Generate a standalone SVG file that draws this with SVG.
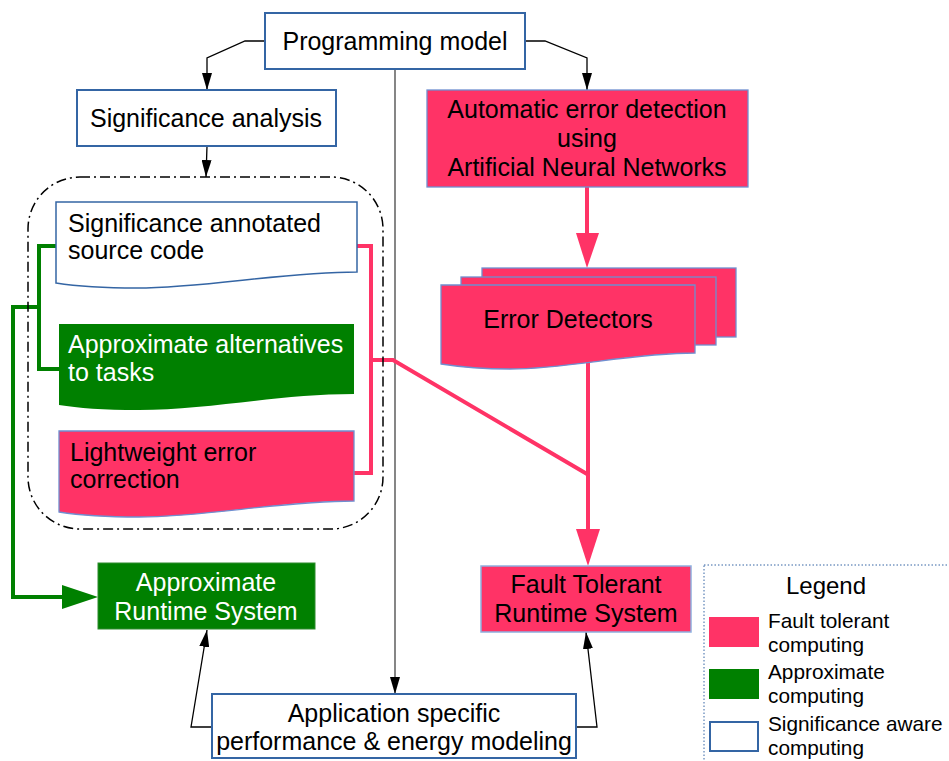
<svg xmlns="http://www.w3.org/2000/svg" width="949" height="761" viewBox="0 0 949 761">
<style>
text{font-family:"Liberation Sans",Arial,sans-serif;font-size:25px;fill:#000}
.w{fill:#fff}
.c{text-anchor:middle}
.lg{font-size:20.8px}
.box{fill:#fff;stroke:#3465a4;stroke-width:2}
.pink{fill:#ff3366}
.pst{stroke:#6f8fd0;stroke-width:1.3}
.green{fill:#008000}
.thin{fill:none;stroke:#000;stroke-width:1.3}
.thick{fill:none;stroke-width:4;stroke-linejoin:miter}
</style>
<defs>
<marker id="a" viewBox="0 0 17 10" refX="17" refY="5" markerWidth="17" markerHeight="10" markerUnits="userSpaceOnUse" orient="auto">
<path d="M0,0 L17,5 L0,10 Z" fill="#000"/>
</marker>
</defs>
<rect width="949" height="761" fill="#fff"/>

<g id="connectors">
<polyline class="thin" points="265,41 245,41 207,58 207,90" marker-end="url(#a)"/>
<polyline class="thin" points="525,41 545,41 587,58 587,90" marker-end="url(#a)"/>
<polyline class="thin" points="207,146 206,177" marker-end="url(#a)"/>
<polyline class="thin" style="stroke:#444" points="395,69 395,694" marker-end="url(#a)"/>
<polyline class="thin" points="212,727 191,727 207,630" marker-end="url(#a)"/>
<polyline class="thin" points="576,727 597,727 586,632" marker-end="url(#a)"/>
<path class="thick" stroke="#ff3366" d="M587,187 V234"/>
<polygon fill="#ff3366" points="576,233 599,233 587,268"/>
<path class="thick" stroke="#ff3366" d="M588,360 V530"/>
<polygon fill="#ff3366" points="576,529 600,529 588,566"/>
<path class="thick" stroke="#ff3366" d="M357,246 H371 V473 H354"/>
<path class="thick" stroke="#ff3366" d="M371,360 H393 L587,474"/>
<path class="thick" stroke="#008000" d="M56,246 H39 V369 H59"/>
<path class="thick" stroke="#008000" d="M39,307 H13 V597 H63"/>
<polygon fill="#008000" points="62,585 62,609 98,597"/>
</g>

<g id="programming-model">
<rect class="box" x="265" y="13" width="260" height="56"/>
<text class="c" x="395" y="50">Programming model</text>
</g>

<g id="significance-analysis">
<rect class="box" x="77" y="90" width="259" height="56"/>
<text class="c" x="206" y="127">Significance analysis</text>
</g>

<g id="automatic-error-detection">
<rect class="pink pst" x="427" y="90" width="321" height="97"/>
<text class="c" x="587" y="118">Automatic error detection</text>
<text class="c" x="587" y="147">using</text>
<text class="c" x="587" y="176">Artificial Neural Networks</text>
</g>

<g id="significance-group">
<rect x="28" y="177" width="355" height="352" rx="52" fill="none" stroke="#000" stroke-width="1.5" stroke-dasharray="10 4 2 4"/>
</g>

<g id="annotated-source">
<path fill="#fff" stroke="#3465a4" stroke-width="1.5" d="M56,202 H357 V272 C282,272 206,288 137,288 C100,288 75,286 56,283 Z"/>
<text x="68" y="232">Significance annotated</text>
<text x="68" y="259">source code</text>
</g>

<g id="approximate-alternatives">
<path class="green" d="M59,324 H354 V394 C280,394 206,410 139,410 C103,410 78,408 59,405 Z"/>
<text class="w" x="68" y="353">Approximate alternatives</text>
<text class="w" x="68" y="381">to tasks</text>
</g>

<g id="lightweight-correction">
<path class="pink pst" d="M59,431 H354 V501 C280,501 206,517 139,517 C103,517 78,515 59,512 Z"/>
<text x="70" y="461">Lightweight error</text>
<text x="70" y="488">correction</text>
</g>

<g id="error-detectors">
<rect class="pink pst" x="482" y="268" width="254" height="69"/>
<rect class="pink pst" x="461" y="277" width="255" height="68"/>
<path class="pink pst" d="M441,285 H695 V353 C631,353 568,369 510,369 C480,369 460,367 441,364 Z"/>
<text class="c" x="568" y="328">Error Detectors</text>
</g>

<g id="approximate-runtime">
<rect class="green" x="98" y="563" width="217" height="66" stroke="#2e8b2e" stroke-width="1"/>
<text class="w c" x="206" y="591">Approximate</text>
<text class="w c" x="206" y="620">Runtime System</text>
</g>

<g id="fault-tolerant-runtime">
<rect class="pink" x="481" y="566" width="210" height="66" stroke="#8fb0e0" stroke-width="1.5"/>
<text class="c" x="586" y="593">Fault Tolerant</text>
<text class="c" x="586" y="622">Runtime System</text>
</g>

<g id="application-modeling">
<rect class="box" x="212" y="694" width="364" height="64"/>
<text class="c" x="394" y="722">Application specific</text>
<text class="c" x="394" y="750">performance &amp; energy modeling</text>
</g>

<g id="legend">
<rect x="704" y="565" width="260" height="210" fill="none" stroke="#3465a4" stroke-width="1" stroke-dasharray="1.5 2"/>
<text class="c" x="826" y="594" style="font-size:24px">Legend</text>
<rect class="pink" x="709" y="617" width="50" height="30"/>
<text class="lg" x="768" y="628">Fault tolerant</text>
<text class="lg" x="768" y="652">computing</text>
<rect class="green" x="709" y="669" width="50" height="30"/>
<text class="lg" x="768" y="679">Approximate</text>
<text class="lg" x="768" y="703">computing</text>
<rect fill="#fff" stroke="#3465a4" stroke-width="2" x="710" y="722" width="48" height="29"/>
<text class="lg" x="768" y="731">Significance aware</text>
<text class="lg" x="768" y="755">computing</text>
</g>
</svg>
